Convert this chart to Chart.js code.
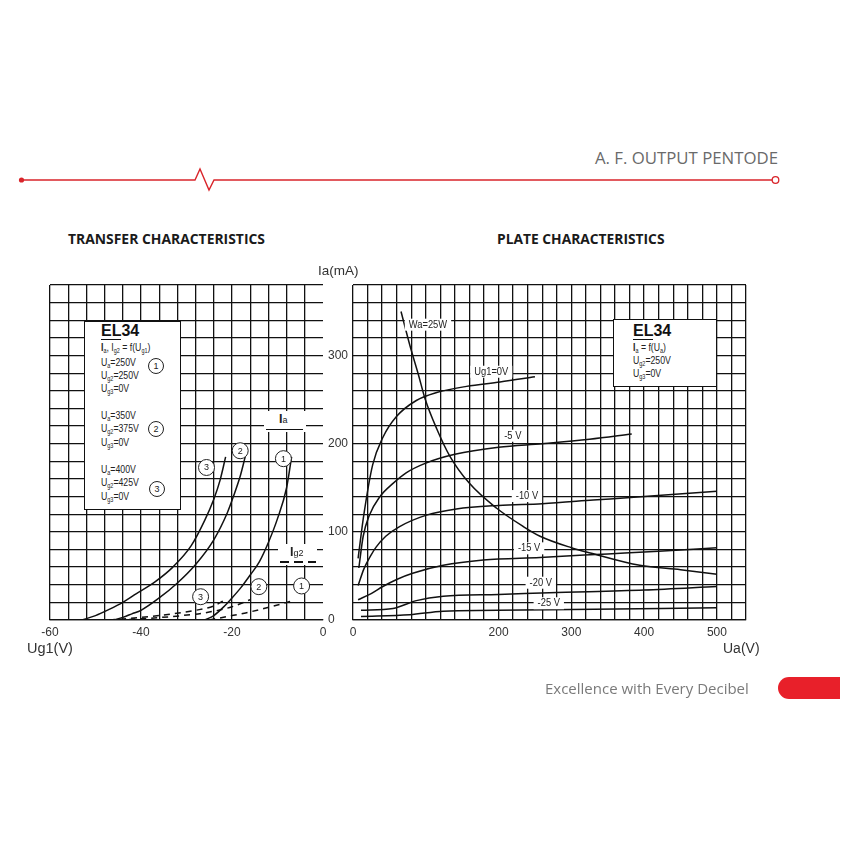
<!DOCTYPE html>
<html>
<head>
<meta charset="utf-8">
<script src="https://cdn.jsdelivr.net/npm/chart.js@4.4.0/dist/chart.umd.min.js"></script>
<style>
  body{margin:0;background:#fff;}
  #page{position:relative;width:850px;height:850px;overflow:hidden;background:#fff;font-family:"Liberation Sans",Arial,sans-serif;color:#222;}
  .cv{position:absolute;left:0;top:0;width:850px;height:850px;}
  .t{position:absolute;white-space:nowrap;}
  .box{position:absolute;background:#fff;border:1.5px solid #111;box-sizing:border-box;}
  .n{font-family:"Liberation Sans",Arial,sans-serif;font-size:11.2px;line-height:12px;color:#222;transform:scaleX(0.78);transform-origin:0 50%;}
  .n sub{font-size:7px;vertical-align:-2px;}
  .el{font-family:"Liberation Sans",Arial,sans-serif;font-weight:bold;font-size:16px;line-height:16px;color:#111;}
  .circ{position:absolute;width:16px;height:16px;border:1px solid #222;border-radius:50%;box-sizing:border-box;font-size:9px;line-height:14px;text-align:center;background:#fff;}
  .key{position:absolute;background:#fff;}
</style>
</head>
<body>
<div id="page">
  <svg class="t" style="left:0;top:0" width="850" height="200">
    <path d="M21,180 L195,180 L200,169 L209,190 L214,180 L772,180" fill="none" stroke="#d9252b" stroke-width="1.4"/>
    <circle cx="21.5" cy="180" r="2.6" fill="#d9252b"/>
    <circle cx="775.5" cy="180" r="3.3" fill="#fff" stroke="#d9252b" stroke-width="1.3"/>
  </svg>
  <div class="t" style="right:72px;top:147px;font-family:'Open Sans',sans-serif;font-size:16.8px;line-height:22px;color:#6a6a6a;">A. F. OUTPUT PENTODE</div>
  <div class="t" style="left:68px;top:230px;font-family:'Open Sans',sans-serif;font-weight:bold;font-size:13.9px;line-height:18px;color:#1a1a1a;">TRANSFER CHARACTERISTICS</div>
  <div class="t" style="left:497px;top:230px;font-family:'Open Sans',sans-serif;font-weight:bold;font-size:13.8px;line-height:18px;color:#1a1a1a;">PLATE CHARACTERISTICS</div>

  <div class="cv"><canvas id="transfer"></canvas></div>
  <div class="cv"><canvas id="plate"></canvas></div>

  <div class="t" style="left:318px;top:263px;font-size:13.5px;line-height:16px;color:#333;">Ia(mA)</div>
  <div class="t" style="left:27px;top:640px;font-size:14.5px;line-height:16px;color:#333;">Ug1(V)</div>
  <div class="t" style="left:723px;top:640px;font-size:14px;line-height:16px;color:#333;">Ua(V)</div>

  <!-- transfer legend box -->
  <div class="box" style="left:84px;top:321px;width:97px;height:189px;">
    <div class="t el" style="left:16px;top:1px;"><span style="border-bottom:1px solid #111;">EL</span>34</div>
    <div class="t n" style="left:16px;top:19px;"><b>I</b><sub>a</sub>, I<sub>g2</sub> = f(U<sub>g1</sub>)</div>
    <div class="t n" style="left:16px;top:34px;">U<sub>a</sub>=250V</div>
    <div class="t n" style="left:16px;top:47px;">U<sub>g2</sub>=250V</div>
    <div class="t n" style="left:16px;top:60px;">U<sub>g3</sub>=0V</div>
    <div class="t n" style="left:16px;top:87px;">U<sub>a</sub>=350V</div>
    <div class="t n" style="left:16px;top:100px;">U<sub>g2</sub>=375V</div>
    <div class="t n" style="left:16px;top:114px;">U<sub>g3</sub>=0V</div>
    <div class="t n" style="left:16px;top:141px;">U<sub>a</sub>=400V</div>
    <div class="t n" style="left:16px;top:154px;">U<sub>g2</sub>=425V</div>
    <div class="t n" style="left:16px;top:168px;">U<sub>g3</sub>=0V</div>
    <div class="circ" style="left:63px;top:36px;">1</div>
    <div class="circ" style="left:63px;top:99px;">2</div>
    <div class="circ" style="left:64px;top:159px;">3</div>
  </div>

  <!-- plate legend box -->
  <div class="box" style="left:613px;top:319px;width:104px;height:68px;">
    <div class="t el" style="left:19px;top:3px;"><span style="border-bottom:1px solid #111;">EL</span>34</div>
    <div class="t n" style="left:19px;top:21px;"><b>I</b><sub>a</sub> = f(U<sub>a</sub>)</div>
    <div class="t n" style="left:19px;top:34px;">U<sub>g2</sub>=250V</div>
    <div class="t n" style="left:19px;top:47px;">U<sub>g3</sub>=0V</div>
  </div>

  <!-- curve keys on the transfer chart -->
  <div class="key" style="left:264px;top:411px;width:42px;height:21px;">
    <div class="t" style="left:15px;top:1px;font-size:12.5px;line-height:14px;color:#222;"><b>I</b><span style="font-size:9px;">a</span></div>
    <div class="t" style="left:2px;top:18px;width:37px;border-top:1.8px solid #111;"></div>
  </div>
  <div class="key" style="left:278px;top:544px;width:39px;height:21px;">
    <div class="t" style="left:12px;top:1px;font-size:12.5px;line-height:14px;color:#222;"><b>I</b><span style="font-size:9px;">g2</span></div>
    <div class="t" style="left:2px;top:17px;width:36px;height:2px;background:repeating-linear-gradient(90deg,#111 0 9px,transparent 9px 14px);"></div>
  </div>

  <div class="t" style="left:545px;top:678px;font-family:'Open Sans',sans-serif;font-size:15px;line-height:20px;color:#7a7a7a;">Excellence with Every Decibel</div>
  <div class="t" style="left:778px;top:677px;width:62px;height:22px;background:#e8202a;border-radius:11px 0 0 11px;"></div>
</div>

<script>
// ---- transfer characteristics: Ia and Ig2 (mA) vs Ug1 (V) ----
const ug1Ia1 = [-26, -24, -22, -20, -18, -16, -14, -12, -10, -8, -6.9];
const ia1    = [0, 5, 14, 25, 37, 51, 66, 88, 115, 150, 185];
const ug1Ia2 = [-46, -44, -42, -40, -36, -32, -28, -24, -21, -19.7, -18.2, -17.1];
const ia2    = [0, 3, 7, 11, 25, 42, 63, 91, 122, 140, 163, 185];
const ug1Ia3 = [-53, -50, -47, -44, -41, -37, -33, -29, -26, -24, -22.6, -21.4];
const ia3    = [0, 5, 12, 20, 30, 43, 60, 84, 113, 137, 159, 185];
const ug1Ig1 = [-25, -21, -17, -13, -10, -6.5];
const ig1    = [0, 4, 8, 13, 17, 22];
const ug1Ig2 = [-45, -38, -31, -25, -20, -16];
const ig2    = [0, 2, 5, 9, 15, 23];
const ug1Ig3 = [-47, -40, -33, -28, -24, -21.5];
const ig3    = [0, 3, 7, 11, 16, 23];

// ---- plate characteristics: Ia (mA) vs Ua (V) ----
const uaG0  = [7, 15, 27, 41, 60, 87, 115, 156, 202, 250];
const iaG0  = [70, 120, 176, 207, 231, 249, 258, 265, 270, 276];
const uaG5  = [8, 14, 22, 37, 55, 73, 100, 140, 200, 260, 325, 383];
const iaG5  = [59, 95, 118, 140, 155, 167, 178, 188, 196, 200, 205, 211];
const uaG10 = [7, 15, 25, 32, 45, 64, 101, 142, 200, 260, 330, 400, 500];
const iaG10 = [39, 58, 74, 83, 95, 106, 119, 126, 130, 132, 136, 140, 146];
const uaG15 = [7, 25, 41, 60, 82, 124, 179, 257, 350, 420, 500];
const iaG15 = [23, 30, 38, 46, 53, 62, 68, 71, 75, 78, 82];
const uaG20 = [11, 55, 87, 124, 200, 270, 400, 500];
const iaG20 = [11, 13, 22, 27, 29, 31, 34, 38];
const uaG25 = [11, 78, 124, 270, 500];
const iaG25 = [4, 6, 10, 11.5, 14];
const uaWa  = [66, 78, 90, 99, 115, 133, 160, 197, 234, 257, 300, 326, 394, 450, 500];
const iaWa  = [350, 312, 278, 251, 217, 186, 155, 127, 106, 95, 82, 76, 62, 57, 52];

// tick labels
const ug1TickLabels = [-60, -40, -20, 0];
const uaTickLabels  = [0, 200, 300, 400, 500];
const iaTickLabels  = [0, 100, 200, 300];

// curve labels
const transferMarks = [['1', -8.7, 183], ['2', -18.2, 192], ['3', -25.6, 173],
                       ['1', -4.7, 38.6], ['2', -14.1, 37.8], ['3', -26.9, 26.4]];
const plateMarks = [['Wa=25W', 103, 335], ['Ug1=0V', 190, 281.6], ['-5 V', 219.6, 209],
                    ['-10 V', 239, 140.6], ['-15 V', 242, 81.3], ['-20 V', 258, 42.3], ['-25 V', 269, 19]];

const ink = '#111';
const tickFont = {family:'"Liberation Sans", Arial, sans-serif', size:12};
const pts = (xs, ys) => xs.map((x, i) => ({x, y: ys[i]}));
const solid = d => ({data:d, borderColor:ink, borderWidth:1.5, pointRadius:0, cubicInterpolationMode:'monotone', fill:false});
const dashed = d => ({...solid(d), borderDash:[6,5]});
const noPad = s => { s.paddingLeft = 0; s.paddingRight = 0; s.paddingTop = 0; s.paddingBottom = 0; };

const circles = {
  id:'circles',
  afterDatasetsDraw(chart){
    const {ctx, scales:{x, y}} = chart;
    ctx.save();
    ctx.font = '9px "Liberation Sans", Arial, sans-serif';
    ctx.textAlign = 'center'; ctx.textBaseline = 'middle';
    transferMarks.forEach(([t, vx, vy]) => {
      const px = x.getPixelForValue(vx), py = y.getPixelForValue(vy);
      ctx.beginPath(); ctx.arc(px, py, 8, 0, Math.PI*2);
      ctx.fillStyle = '#fff'; ctx.fill();
      ctx.lineWidth = 1; ctx.strokeStyle = '#222'; ctx.stroke();
      ctx.fillStyle = '#222'; ctx.fillText(t, px, py + 0.5);
    });
    ctx.restore();
  }
};

const curveLabels = {
  id:'curveLabels',
  afterDatasetsDraw(chart){
    const {ctx, scales:{x, y}} = chart;
    ctx.save();
    ctx.font = '11px "Liberation Sans", Arial, sans-serif';
    ctx.textAlign = 'center'; ctx.textBaseline = 'middle';
    plateMarks.forEach(([t, vx, vy]) => {
      const px = x.getPixelForValue(vx), py = y.getPixelForValue(vy);
      const w = ctx.measureText(t).width * 0.85 + 8;
      ctx.fillStyle = '#fff'; ctx.fillRect(px - w/2, py - 6, w, 12);
      ctx.save(); ctx.translate(px, py); ctx.scale(0.85, 1);
      ctx.fillStyle = '#222'; ctx.fillText(t, 0, 0);
      ctx.restore();
    });
    ctx.restore();
  }
};

new Chart(document.getElementById('transfer'), {
  type:'line',
  data:{datasets:[
    solid(pts(ug1Ia1, ia1)), solid(pts(ug1Ia2, ia2)), solid(pts(ug1Ia3, ia3)),
    dashed(pts(ug1Ig1, ig1)), dashed(pts(ug1Ig2, ig2)), dashed(pts(ug1Ig3, ig3))
  ]},
  options:{
    responsive:true, maintainAspectRatio:false, animation:false,
    layout:{padding:{left:50, top:285, right:487, bottom:205}},
    plugins:{legend:{display:false}, tooltip:{enabled:false}},
    scales:{
      x:{type:'linear', min:-60, max:0,
         grid:{color:c => c.tick && c.tick.value === 0 ? 'rgba(0,0,0,0)' : ink, lineWidth:1.3, drawTicks:false},
         border:{display:true, color:ink, width:1.3},
         ticks:{stepSize:4, autoSkip:false, maxRotation:0, padding:5, color:'#333', font:tickFont,
                callback:v => ug1TickLabels.includes(v) ? v : ''},
         afterFit:s => { s.height = 25; noPad(s); }},
      y:{type:'linear', position:'right', min:0, max:380,
         grid:{color:ink, lineWidth:1.3, drawTicks:false},
         border:{display:false},
         ticks:{stepSize:20, autoSkip:false, padding:5, color:'#333', font:tickFont,
                callback:v => iaTickLabels.includes(v) ? v : ''},
         afterFit:s => { s.width = 40; noPad(s); }}
    }
  },
  plugins:[circles]
});

new Chart(document.getElementById('plate'), {
  type:'line',
  data:{datasets:[
    solid(pts(uaG0, iaG0)), solid(pts(uaG5, iaG5)), solid(pts(uaG10, iaG10)),
    solid(pts(uaG15, iaG15)), solid(pts(uaG20, iaG20)), solid(pts(uaG25, iaG25)),
    solid(pts(uaWa, iaWa))
  ]},
  options:{
    responsive:true, maintainAspectRatio:false, animation:false,
    layout:{padding:{left:353, top:285, right:104, bottom:205}},
    plugins:{legend:{display:false}, tooltip:{enabled:false}},
    scales:{
      x:{type:'linear', min:0, max:540,
         grid:{color:ink, lineWidth:1.3, drawTicks:false},
         border:{display:true, color:ink, width:1.3},
         ticks:{stepSize:20, autoSkip:false, maxRotation:0, padding:5, color:'#333', font:tickFont,
                callback:v => uaTickLabels.includes(v) ? v : ''},
         afterFit:s => { s.height = 25; noPad(s); }},
      y:{type:'linear', position:'left', min:0, max:380,
         grid:{color:ink, lineWidth:1.3, drawTicks:false},
         border:{display:false},
         ticks:{display:false, stepSize:20, autoSkip:false},
         afterFit:s => { s.width = 0; noPad(s); }}
    }
  },
  plugins:[curveLabels]
});
</script>
</body>
</html>
